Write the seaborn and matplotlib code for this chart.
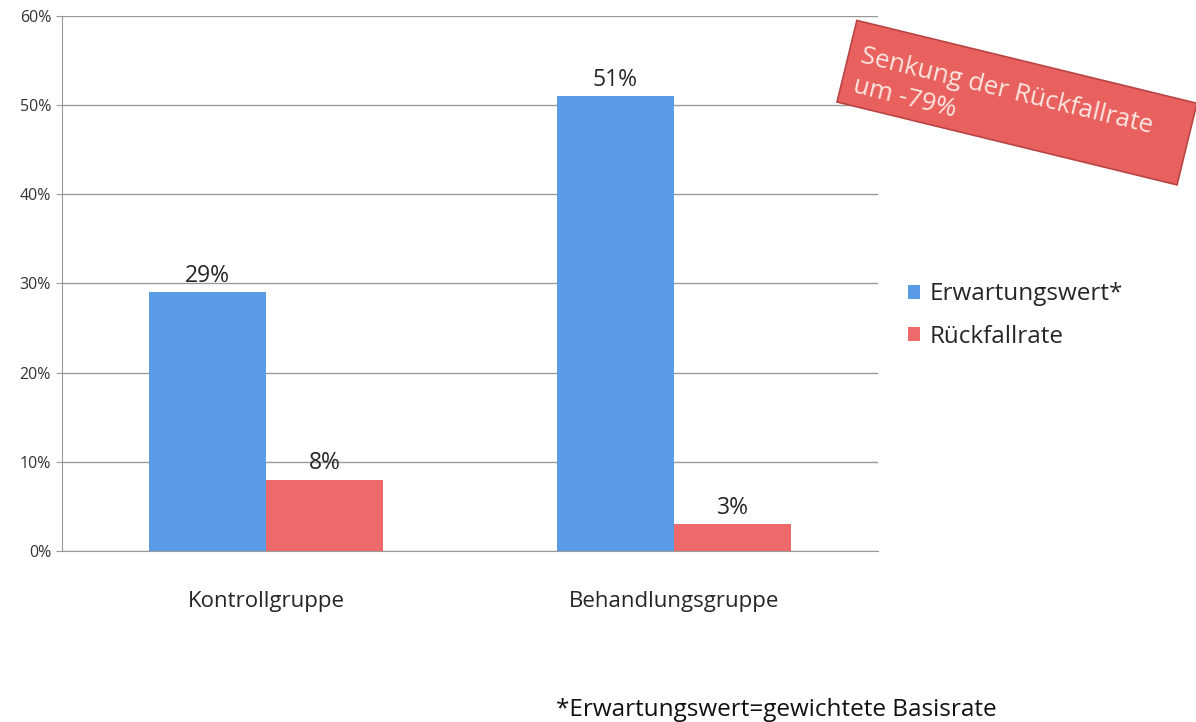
import pandas as pd
import seaborn as sns
import matplotlib.pyplot as plt
from matplotlib.patches import Rectangle
from matplotlib.ticker import PercentFormatter

groups = ['Kontrollgruppe', 'Behandlungsgruppe']
series = ['Erwartungswert*', 'Rückfallrate']
erwartung = [29, 51]
rueckfall = [8, 3]
colors = ['#5a9be6', '#ee6a6a']

df = pd.DataFrame({
    'gruppe': groups * 2,
    'serie': [series[0]] * 2 + [series[1]] * 2,
    'wert': erwartung + rueckfall,
})

sns.set_style('white')
plt.rcParams['font.family'] = ['Open Sans', 'DejaVu Sans']

fig = plt.figure(figsize=(11.96, 7.22), dpi=100)
ax = fig.add_axes([0.052, 0.237, 0.682, 0.741])

sns.barplot(data=df, x='gruppe', y='wert', hue='serie', palette=colors,
            width=0.575, saturation=1, linewidth=0, ax=ax, zorder=3)

ax.set_xlim(-0.5, 1.5)
ax.set_ylim(0, 60)
ax.set_yticks(range(0, 61, 10))
ax.yaxis.set_major_formatter(PercentFormatter(decimals=0))
ax.grid(axis='y', color='#9a9a9a', linewidth=1, zorder=0)
ax.set_axisbelow(True)
for s in ['top', 'right']:
    ax.spines[s].set_visible(False)
ax.spines['left'].set_color('#9a9a9a')
ax.spines['bottom'].set_color('#9a9a9a')
ax.tick_params(axis='y', left=True, length=4, color='#9a9a9a', labelsize=11.5,
               labelcolor='#333333', pad=4)
ax.tick_params(axis='x', length=0, labelsize=16, pad=29)
ax.set_xlabel('')
ax.set_ylabel('')

for cont in ax.containers:
    ax.bar_label(cont, fmt='%g%%', fontsize=16.5, padding=3)

ax.legend(loc='center left', bbox_to_anchor=(1.01, 0.44), frameon=False,
          fontsize=17.5, handlelength=0.5, handleheight=0.5,
          handletextpad=0.4, labelspacing=0.75)

# rotated red callout box
box = Rectangle((8.37, 6.20), 3.50, 0.84, angle=-13.7, rotation_point='xy',
                transform=fig.dpi_scale_trans, facecolor='#e8615f',
                edgecolor='#b84444', linewidth=1.2)
fig.patches.append(box)
fig.text(0.7225, 0.94, 'Senkung der Rückfallrate\num -79%', rotation=-13.7,
         rotation_mode='anchor', ha='left', va='top', multialignment='left',
         fontsize=18.5, color='#fde6df', linespacing=1.3)

fig.text(0.465, 0.008, '*Erwartungswert=gewichtete Basisrate', fontsize=17.5,
         color='#111111')

fig.savefig('out.png', dpi=100)
